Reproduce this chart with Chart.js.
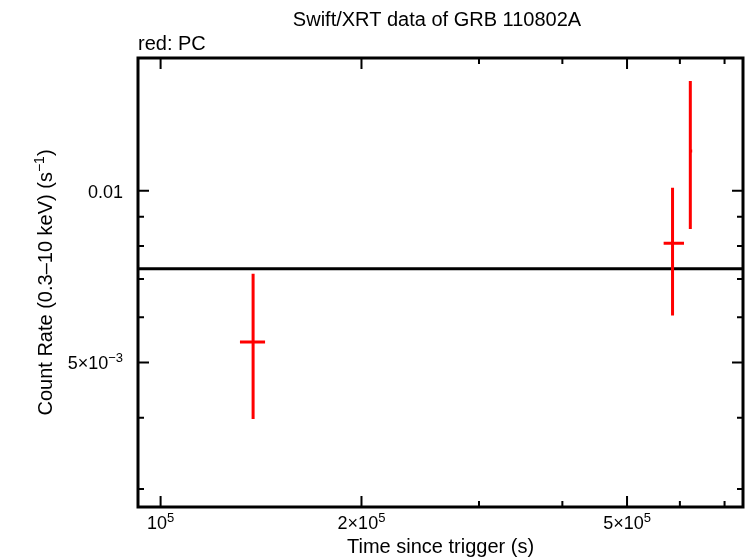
<!DOCTYPE html>
<html>
<head>
<meta charset="utf-8">
<script src="https://cdn.jsdelivr.net/npm/chart.js@4/dist/chart.umd.min.js"></script>
<style>
  body { margin: 0; background: #fff; }
  canvas { display: block; }
</style>
</head>
<body>
<canvas id="lc" width="746" height="558"></canvas>
<script>
// light curve bins (PC mode)
const times = [137600, 585000, 622000];
const timeLo = [131500, 567300, 620000];
const timeHi = [143400, 608600, 626000];
const rates = [0.00543, 0.00809, 0.01174];
const rateLo = [0.00398, 0.00604, 0.00857];
const rateHi = [0.00715, 0.01012, 0.01556];

// constant fit level
const fitLevel = 0.0073;

const xMajor = [1e5, 2e5, 5e5];
const xMinor = [3e5, 4e5, 6e5, 7e5];
// [base, superscript]
const xLabels = [['10', '5'], ['2×10', '5'], ['5×10', '5']];
const yMajor = [0.005, 0.01];
const yMinor = [0.003, 0.004, 0.006, 0.007, 0.008, 0.009];
const yLabels = [['5×10', '−3'], ['0.01', '']];

const FONT = 'Liberation Sans, Arial, Helvetica, sans-serif';
const BASE = '18px ' + FONT;
const SUP = '13px ' + FONT;

// draw base text + raised superscript; align = 'center' | 'right' | 'left'
function supText(ctx, base, sup, x, y, align, baseFont, supFont, rise) {
    ctx.font = baseFont;
    const wb = ctx.measureText(base).width;
    ctx.font = supFont;
    const ws = sup ? ctx.measureText(sup).width : 0;
    const w = wb + ws;
    let x0 = x;
    if (align === 'center') x0 = x - w / 2;
    else if (align === 'right') x0 = x - w;
    ctx.textAlign = 'left';
    ctx.font = baseFont;
    ctx.fillText(base, x0, y);
    if (sup) {
        ctx.font = supFont;
        ctx.fillText(sup, x0 + wb, y - rise);
    }
}

const lcPlugin = {
    id: 'lcPlugin',
    afterDatasetsDraw(chart) {
        const { ctx, chartArea, scales } = chart;
        const xs = scales.x, ys = scales.y;
        const { left, right, top, bottom } = chartArea;

        ctx.save();
        // constant fit
        ctx.strokeStyle = '#000';
        ctx.lineWidth = 3;
        ctx.beginPath();
        const yf = ys.getPixelForValue(fitLevel);
        ctx.moveTo(left, yf);
        ctx.lineTo(right, yf);
        ctx.stroke();

        // error bars
        ctx.strokeStyle = '#ff0000';
        ctx.lineWidth = 3;
        times.forEach((t, i) => {
            const px = xs.getPixelForValue(t);
            const py = ys.getPixelForValue(rates[i]);
            ctx.beginPath();
            ctx.moveTo(xs.getPixelForValue(timeLo[i]), py);
            ctx.lineTo(xs.getPixelForValue(timeHi[i]), py);
            ctx.moveTo(px, ys.getPixelForValue(rateLo[i]));
            ctx.lineTo(px, ys.getPixelForValue(rateHi[i]));
            ctx.stroke();
        });

        // ticks (inward, all four sides)
        ctx.strokeStyle = '#000';
        ctx.lineWidth = 2;
        ctx.beginPath();
        const xTick = (v, len) => {
            const px = xs.getPixelForValue(v);
            ctx.moveTo(px, bottom); ctx.lineTo(px, bottom - len);
            ctx.moveTo(px, top); ctx.lineTo(px, top + len);
        };
        const yTick = (v, len) => {
            const py = ys.getPixelForValue(v);
            ctx.moveTo(left, py); ctx.lineTo(left + len, py);
            ctx.moveTo(right, py); ctx.lineTo(right - len, py);
        };
        xMajor.forEach(v => xTick(v, 11));
        xMinor.forEach(v => xTick(v, 6));
        yMajor.forEach(v => yTick(v, 11));
        yMinor.forEach(v => yTick(v, 6));
        ctx.stroke();

        // frame
        ctx.lineWidth = 3;
        ctx.strokeRect(left, top, right - left, bottom - top);

        // tick labels
        ctx.fillStyle = '#000';
        ctx.textBaseline = 'alphabetic';
        xMajor.forEach((v, i) => {
            supText(ctx, xLabels[i][0], xLabels[i][1], xs.getPixelForValue(v), bottom + 22, 'center', BASE, SUP, 7);
        });
        yMajor.forEach((v, i) => {
            supText(ctx, yLabels[i][0], yLabels[i][1], left - 15, ys.getPixelForValue(v) + 7, 'right', BASE, SUP, 7);
        });

        // axis titles
        const TITLE = '20px ' + FONT;
        const TSUP = '14px ' + FONT;
        ctx.font = TITLE;
        ctx.textAlign = 'center';
        ctx.fillText('Time since trigger (s)', (left + right) / 2, 553);

        ctx.save();
        ctx.translate(52, (top + bottom) / 2);
        ctx.rotate(-Math.PI / 2);
        ctx.font = TITLE;
        const p1 = 'Count Rate (0.3–10 keV) (s', p2 = '−1', p3 = ')';
        const w1 = ctx.measureText(p1).width, w3 = ctx.measureText(p3).width;
        ctx.font = TSUP;
        const w2 = ctx.measureText(p2).width;
        let x0 = -(w1 + w2 + w3) / 2;
        ctx.textAlign = 'left';
        ctx.font = TITLE;
        ctx.fillText(p1, x0, 0);
        ctx.font = TSUP;
        ctx.fillText(p2, x0 + w1, -8);
        ctx.font = TITLE;
        ctx.fillText(p3, x0 + w1 + w2, 0);
        ctx.restore();

        // headings
        ctx.font = '20px ' + FONT;
        ctx.textAlign = 'center';
        ctx.fillText('Swift/XRT data of GRB 110802A', 437, 26);
        ctx.textAlign = 'left';
        ctx.fillText('red: PC', 138, 50);
        ctx.restore();
    }
};

new Chart(document.getElementById('lc'), {
    type: 'scatter',
    data: {
        datasets: [{
            data: times.map((t, i) => ({ x: t, y: rates[i] })),
            pointRadius: 0
        }]
    },
    options: {
        responsive: false,
        animation: false,
        layout: { padding: { left: 0, right: 3, top: 58, bottom: 0 } },
        plugins: {
            legend: { display: false },
            tooltip: { enabled: false }
        },
        scales: {
            x: {
                type: 'logarithmic',
                min: 92500,
                max: 746000,
                afterFit: s => { s.height = 51; },
                grid: { display: false, drawTicks: false },
                border: { display: false },
                ticks: { display: false }
            },
            y: {
                type: 'logarithmic',
                min: 0.00279,
                max: 0.01708,
                afterFit: s => { s.width = 138; },
                grid: { display: false, drawTicks: false },
                border: { display: false },
                ticks: { display: false }
            }
        }
    },
    plugins: [lcPlugin]
});
</script>
</body>
</html>
